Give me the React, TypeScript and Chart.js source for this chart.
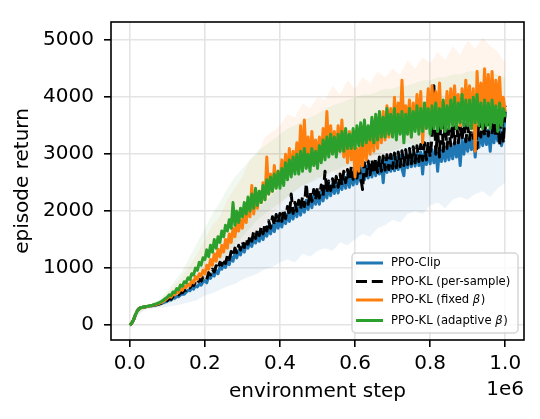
import React, { useEffect, useRef } from "react";
import { Chart, registerables } from "chart.js";

Chart.register(...registerables);

// environment steps (thousands)
const stepsK = [
  0, 5, 10, 15, 20, 25, 30, 35, 40, 45,
  50, 55, 60, 65, 70, 75, 80, 85, 90, 95,
  100, 105, 110, 115, 120, 125, 130, 135, 140, 145,
  150, 155, 160, 165, 170, 175, 180, 185, 190, 195,
  200, 205, 210, 215, 220, 225, 230, 235, 240, 245,
  250, 255, 260, 265, 270, 275, 280, 285, 290, 295,
  300, 305, 310, 315, 320, 325, 330, 335, 340, 345,
  350, 355, 360, 365, 370, 375, 380, 385, 390, 395,
  400, 405, 410, 415, 420, 425, 430, 435, 440, 445,
  450, 455, 460, 465, 470, 475, 480, 485, 490, 495,
  500, 505, 510, 515, 520, 525, 530, 535, 540, 545,
  550, 555, 560, 565, 570, 575, 580, 585, 590, 595,
  600, 605, 610, 615, 620, 625, 630, 635, 640, 645,
  650, 655, 660, 665, 670, 675, 680, 685, 690, 695,
  700, 705, 710, 715, 720, 725, 730, 735, 740, 745,
  750, 755, 760, 765, 770, 775, 780, 785, 790, 795,
  800, 805, 810, 815, 820, 825, 830, 835, 840, 845,
  850, 855, 860, 865, 870, 875, 880, 885, 890, 895,
  900, 905, 910, 915, 920, 925, 930, 935, 940, 945,
  950, 955, 960, 965, 970, 975, 980, 985, 990, 995,
  1000,
];

const ppoClip = [
  0, 30, 90, 180, 250, 290, 305, 312, 318, 323,
  328, 334, 340, 346, 352, 360, 370, 380, 392, 405,
  420, 445, 440, 478, 470, 505, 498, 530, 545, 540,
  575, 610, 600, 650, 630, 690, 670, 720, 700, 760,
  780, 740, 850, 820, 900, 860, 960, 900, 1010, 980,
  1080, 1010, 1130, 1060, 1200, 1120, 1260, 1180, 1310, 1230,
  1380, 1280, 1420, 1350, 1470, 1380, 1530, 1440, 1560, 1470,
  1620, 1500, 1660, 1560, 1720, 1600, 1750, 1640, 1820, 1700,
  1850, 1720, 1900, 1780, 1950, 1820, 2000, 1860, 2060, 1900,
  2080, 1930, 2130, 1980, 2190, 2030, 2240, 2060, 2280, 2120,
  2290, 2120, 2340, 2180, 2400, 2230, 2450, 2270, 2480, 2310,
  2500, 2320, 2540, 2380, 2600, 2400, 2640, 2420, 2660, 2460,
  2680, 2480, 2700, 2520, 2760, 2550, 2790, 2580, 2820, 2600,
  2830, 2620, 2850, 2650, 2880, 2500, 2900, 2680, 2920, 2700,
  2940, 2710, 2950, 2730, 2980, 2740, 2620, 2990, 2760, 3000,
  2780, 3010, 2790, 3030, 2800, 3040, 2650, 3050, 2820, 3060,
  2830, 3080, 2850, 3090, 2700, 3100, 2870, 3120, 2880, 3130,
  2900, 3150, 2920, 3200, 2950, 3230, 2800, 3260, 3000, 3280,
  3050, 3300, 3080, 3330, 2950, 3350, 3120, 3380, 3150, 3400,
  3170, 3420, 3050, 3450, 3200, 3480, 3230, 3520, 3150, 3300,
  3750,
];

const ppoKlPerSample = [
  0, 30, 90, 180, 250, 290, 305, 312, 318, 324,
  330, 336, 342, 349, 356, 365, 375, 387, 400, 415,
  430, 465, 455, 505, 495, 540, 530, 575, 565, 610,
  610, 665, 650, 710, 690, 760, 720, 800, 770, 840,
  850, 800, 920, 880, 980, 930, 1040, 990, 1100, 1050,
  1160, 1080, 1220, 1150, 1290, 1210, 1350, 1270, 1400, 1320,
  1460, 1360, 1510, 1420, 1560, 1470, 1640, 1520, 1680, 1570,
  1720, 1600, 1780, 1650, 1830, 1700, 1900, 1750, 1940, 1800,
  1960, 1820, 2030, 1870, 2080, 1920, 2300, 1960, 2150, 2000,
  2190, 2030, 2250, 2080, 2480, 2120, 2340, 2170, 2380, 2200,
  2420, 2230, 2460, 2270, 2700, 2320, 2530, 2360, 2570, 2400,
  2610, 2420, 2650, 2460, 2700, 2500, 2730, 2540, 2780, 2560,
  2800, 2580, 2820, 2600, 2380, 2850, 2620, 2880, 2640, 2900,
  2660, 2920, 2680, 2950, 2700, 2970, 2720, 2990, 2730, 3000,
  2750, 3020, 2760, 3040, 2780, 3060, 2800, 3080, 2820, 3100,
  2830, 3130, 2850, 3150, 2870, 3170, 2890, 3200, 2900, 3220,
  2950, 3300, 4200, 3000, 3400, 2950, 3900, 3050, 3500, 3100,
  3450, 3150, 3520, 3180, 3600, 3200, 3480, 3250, 3550, 3220,
  3500, 3250, 3560, 3280, 3600, 3100, 3620, 3300, 3650, 3320,
  3680, 3320, 3700, 3350, 3720, 3300, 3650, 3150, 3700, 3200,
  3850,
];

const ppoKlFixed = [
  0, 30, 90, 180, 250, 290, 305, 312, 318, 325,
  332, 338, 345, 352, 360, 372, 385, 400, 420, 445,
  470, 500, 490, 540, 530, 590, 570, 640, 610, 680,
  660, 720, 690, 780, 740, 850, 800, 900, 860, 960,
  900, 1050, 980, 1150, 1050, 1250, 1120, 1330, 1200, 1400,
  1280, 1500, 1350, 1600, 1450, 1700, 1550, 1800, 1650, 1850,
  1700, 2000, 1800, 2100, 1900, 2450, 1950, 2250, 2050, 2350,
  2150, 2500, 2200, 2950, 2300, 2650, 2350, 2800, 2450, 2700,
  2500, 2900, 2550, 3000, 2600, 3100, 2700, 3050, 2750, 3200,
  2800, 3500, 2850, 3600, 2900, 3300, 2850, 3400, 2950, 3250,
  2900, 3300, 2950, 3450, 3050, 3750, 3000, 3500, 3050, 3400,
  3000, 3500, 3050, 3600, 2950, 3300, 2850, 3400, 2900, 3250,
  2600, 3100, 2700, 3250, 2800, 3350, 2900, 3450, 3000, 3550,
  3050, 3600, 3100, 3700, 3200, 3750, 3250, 3850, 3300, 3800,
  3350, 4000, 3400, 3900, 3450, 4300, 3500, 3850, 3550, 3950,
  3300, 3900, 3450, 4050, 3550, 4100, 3200, 3800, 3650, 4150,
  3600, 4200, 3550, 4100, 3650, 4250, 3500, 3900, 3600, 4100,
  3550, 4150, 3650, 4200, 3700, 4050, 3500, 4150, 3650, 4300,
  3700, 4200, 3650, 4150, 3050, 4450, 3700, 4250, 3750, 4500,
  3800, 4400, 3750, 4450, 3700, 4300, 3850, 4350, 3650, 4000,
  3750,
];

const ppoKlAdaptive = [
  0, 30, 90, 180, 250, 292, 306, 314, 320, 328,
  335, 342, 350, 360, 370, 385, 400, 418, 440, 465,
  490, 530, 520, 580, 570, 640, 620, 700, 680, 760,
  740, 830, 800, 900, 880, 1000, 960, 1100, 1050, 1180,
  1150, 1320, 1200, 1400, 1280, 1500, 1350, 1550, 1450, 1650,
  1550, 1750, 1650, 1850, 1700, 2150, 1750, 2000, 1800, 2050,
  1900, 2150, 1950, 2250, 2000, 2300, 2050, 2400, 2100, 2350,
  2150, 2450, 2200, 2550, 2300, 2600, 2350, 2650, 2400, 2700,
  2400, 2750, 2450, 2850, 2550, 2900, 2600, 2950, 2650, 3000,
  2650, 3050, 2700, 3100, 2750, 3000, 2700, 3100, 2800, 3050,
  2750, 3150, 2850, 3250, 2900, 3300, 2950, 3350, 3000, 3300,
  2950, 3350, 3050, 3400, 3050, 3450, 3100, 3350, 3100, 3450,
  3100, 3500, 3150, 3550, 3150, 3600, 3200, 3500, 3250, 3650,
  3200, 3700, 3250, 3750, 3300, 3650, 3300, 3800, 3350, 3700,
  3300, 3800, 3250, 3700, 3350, 3750, 3200, 3700, 3350, 3800,
  3300, 3750, 3400, 3850, 3350, 3800, 3400, 3900, 3450, 3800,
  3350, 3850, 3450, 3900, 3400, 3800, 3450, 3950, 3400, 3850,
  3450, 3950, 3500, 4000, 3450, 3900, 3550, 4050, 3500, 3950,
  3500, 3950, 3450, 4000, 3550, 4050, 3500, 3900, 3450, 3950,
  3500, 3900, 3450, 3950, 3550, 3850, 3400, 3900, 3500, 3800,
  3650,
];

// shaded spread (thousands of steps, coarser grid)
const bandStepsK = [
  0, 20, 40, 60, 80, 100, 120, 140, 160, 180,
  200, 220, 240, 260, 280, 300, 320, 340, 360, 380,
  400, 420, 440, 460, 480, 500, 520, 540, 560, 580,
  600, 620, 640, 660, 680, 700, 720, 740, 760, 780,
  800, 820, 840, 860, 880, 900, 920, 940, 960, 980,
  1000,
];

const clipUpper = [
  0, 270, 320, 345, 380, 470, 560, 650, 760, 880,
  1000, 1150, 1300, 1480, 1600, 1750, 1900, 2050, 2150, 2300,
  2400, 2550, 2650, 2750, 2850, 2900, 3000, 3050, 3150, 3200,
  3250, 3300, 3350, 3400, 3400, 3450, 3500, 3550, 3550, 3600,
  3650, 3650, 3700, 3750, 3750, 3800, 3850, 3850, 3900, 3950,
  4000,
];
const clipLower = [
  0, 150, 270, 290, 300, 320, 340, 370, 400, 440,
  520, 560, 620, 680, 720, 800, 850, 900, 980, 1020,
  1100, 1150, 1100, 1250, 1200, 1300, 1350, 1300, 1450, 1400,
  1500, 1600, 1550, 1700, 1750, 1850, 1800, 1950, 2000, 1950,
  2100, 2150, 2050, 2200, 2250, 2200, 2300, 2350, 2250, 2400,
  2500,
];
const fixedUpper = [
  0, 270, 330, 360, 420, 560, 700, 850, 1050, 1250,
  1500, 1750, 1900, 2200, 2400, 2600, 2900, 3000, 3300, 3400,
  3500, 3700, 3650, 3900, 3800, 4000, 3950, 4200, 4050, 4300,
  4150, 4350, 4250, 4450, 4350, 4500, 4400, 4650, 4500, 4700,
  4600, 4800, 4650, 4900, 4750, 5000, 4850, 5050, 4900, 4800,
  4600,
];
const fixedLower = [
  0, 200, 280, 300, 320, 380, 440, 520, 600, 650,
  720, 850, 950, 1100, 1200, 1350, 1500, 1650, 1800, 1950,
  2100, 2250, 2350, 2450, 2500, 2600, 2550, 2700, 2600, 2750,
  2500, 2650, 2800, 2900, 3000, 3050, 3100, 3200, 3150, 3250,
  3300, 3250, 3350, 3300, 3400, 3350, 3400, 3300, 3450, 3350,
  3300,
];
const adaptiveUpper = [
  0, 270, 330, 370, 450, 600, 780, 950, 1200, 1450,
  1700, 1950, 2150, 2400, 2600, 2750, 2900, 3050, 3150, 3250,
  3350, 3450, 3500, 3600, 3650, 3700, 3800, 3850, 3900, 3950,
  4000, 4050, 4050, 4100, 4150, 4150, 4200, 4200, 4250, 4300,
  4300, 4350, 4350, 4400, 4400, 4450, 4450, 4500, 4450, 4400,
  4350,
];
const adaptiveLower = [
  0, 200, 280, 300, 320, 370, 420, 500, 580, 680,
  800, 950, 1100, 1250, 1400, 1550, 1700, 1850, 1950, 2050,
  2150, 2250, 2350, 2450, 2500, 2550, 2650, 2700, 2750, 2800,
  2850, 2900, 2950, 3000, 3050, 3050, 3100, 3100, 3150, 3150,
  3200, 3200, 3250, 3250, 3300, 3300, 3300, 3350, 3300, 3300,
  3300,
];

const seriesLabels = [
  "PPO-Clip",
  "PPO-KL (per-sample)",
  "PPO-KL (fixed β)",
  "PPO-KL (adaptive β)",
];
const xTickValues = [0, 200000, 400000, 600000, 800000, 1000000];
const yTickValues = [0, 1000, 2000, 3000, 4000, 5000];

const FONT = '"DejaVu Sans", sans-serif';
const C_BLUE = "#1f77b4";
const C_BLACK = "#000000";
const C_ORANGE = "#ff7f0e";
const C_GREEN = "#2ca02c";

const pts = (xs: number[], ys: number[]) =>
  xs.map((x, i) => ({ x: x * 1000, y: ys[i] }));

const lineDs = (label: string, ys: number[], color: string, order: number, dash?: number[]) => ({
  label,
  data: pts(stepsK, ys),
  borderColor: color,
  backgroundColor: color,
  borderWidth: 3,
  borderDash: dash || [],
  borderJoinStyle: "round" as const,
  pointRadius: 0,
  fill: false,
  tension: 0,
  order,
});

const bandDs = (ys: number[], fill: any, bg: string) => ({
  label: "",
  data: pts(bandStepsK, ys),
  borderColor: "rgba(0,0,0,0)",
  borderWidth: 0,
  pointRadius: 0,
  backgroundColor: bg,
  fill,
  tension: 0,
  order: 10,
});

const decorPlugin = {
  id: "decor",
  afterDatasetsDraw(chart: any) {
    const { ctx, chartArea: a } = chart;
    ctx.save();
    ctx.strokeStyle = "#000";
    ctx.lineWidth = 1.6;
    ctx.strokeRect(a.left, a.top, a.right - a.left, a.bottom - a.top);
    ctx.restore();
  },
  afterDraw(chart: any) {
    const { ctx, chartArea: a } = chart;
    ctx.save();
    ctx.font = `20px ${FONT}`;
    ctx.fillStyle = "#000";
    ctx.textAlign = "right";
    ctx.textBaseline = "middle";
    ctx.fillText("1e6", a.right, 390);

    const bx = 352, by = 253, bw = 166, bh = 80, r = 4;
    ctx.beginPath();
    ctx.moveTo(bx + r, by);
    ctx.lineTo(bx + bw - r, by);
    ctx.arcTo(bx + bw, by, bx + bw, by + r, r);
    ctx.lineTo(bx + bw, by + bh - r);
    ctx.arcTo(bx + bw, by + bh, bx + bw - r, by + bh, r);
    ctx.lineTo(bx + r, by + bh);
    ctx.arcTo(bx, by + bh, bx, by + bh - r, r);
    ctx.lineTo(bx, by + r);
    ctx.arcTo(bx, by, bx + r, by, r);
    ctx.closePath();
    ctx.fillStyle = "rgba(255,255,255,0.8)";
    ctx.fill();
    ctx.strokeStyle = "rgba(204,204,204,0.8)";
    ctx.lineWidth = 1.5;
    ctx.stroke();

    const colors = [C_BLUE, C_BLACK, C_ORANGE, C_GREEN];
    const rows = [263, 281.5, 300, 320.5];
    seriesLabels.forEach((lab, i) => {
      const y = rows[i];
      ctx.beginPath();
      ctx.strokeStyle = colors[i];
      ctx.lineWidth = 3;
      ctx.setLineDash(i === 1 ? [11, 4.8] : []);
      ctx.moveTo(356, y);
      ctx.lineTo(383, y);
      ctx.stroke();
      ctx.setLineDash([]);
      ctx.fillStyle = "#000";
      ctx.textAlign = "left";
      ctx.textBaseline = "middle";
      const parts = lab.split("β");
      let x = 391;
      parts.forEach((p, j) => {
        ctx.font = `11.6px ${FONT}`;
        ctx.fillText(p, x, y);
        x += ctx.measureText(p).width;
        if (j < parts.length - 1) {
          ctx.font = `italic 11.6px ${FONT}`;
          ctx.fillText("β", x, y);
          x += ctx.measureText("β").width + 0.5;
        }
      });
    });
    ctx.restore();
  },
};

export default function App() {
  const ref = useRef<HTMLCanvasElement | null>(null);

  useEffect(() => {
    if (!ref.current) return;
    const chart = new Chart(ref.current, {
      type: "line",
      data: {
        datasets: [
          lineDs(seriesLabels[0], ppoClip, C_BLUE, 3),
          lineDs(seriesLabels[1], ppoKlPerSample, C_BLACK, 2, [11, 4.8]),
          lineDs(seriesLabels[2], ppoKlFixed, C_ORANGE, 1),
          lineDs(seriesLabels[3], ppoKlAdaptive, C_GREEN, 0),
          bandDs(clipUpper, false, "rgba(0,0,0,0)"),
          bandDs(clipLower, { target: 4 }, "rgba(31,119,180,0.08)"),
          bandDs(fixedUpper, false, "rgba(0,0,0,0)"),
          bandDs(fixedLower, { target: 6 }, "rgba(255,127,14,0.08)"),
          bandDs(adaptiveUpper, false, "rgba(0,0,0,0)"),
          bandDs(adaptiveLower, { target: 8 }, "rgba(44,160,44,0.07)"),
        ] as any,
      },
      options: {
        animation: false,
        responsive: false,
        events: [],
        layout: { padding: { left: 0, right: 16, top: 15, bottom: 0 } },
        plugins: {
          legend: { display: false },
          tooltip: { enabled: false },
          filler: { propagate: false },
        },
        scales: {
          x: {
            type: "linear",
            min: -50000,
            max: 1050000,
            afterBuildTicks: (axis: any) => {
              axis.ticks = xTickValues.map((v) => ({ value: v }));
            },
            afterFit: (scale: any) => {
              scale.height = 79;
            },
            ticks: {
              autoSkip: false,
              maxRotation: 0,
              padding: 5,
              color: "#000",
              font: { family: FONT, size: 20 },
              callback: (v: any) => (Number(v) / 1e6).toFixed(1),
            },
            grid: {
              color: "#e4e4e4",
              lineWidth: 1.6,
              drawTicks: true,
              tickLength: 7,
              tickColor: "#000",
              tickWidth: 1.6,
            },
            border: { display: false },
            title: {
              display: true,
              text: "environment step",
              color: "#000",
              font: { family: FONT, size: 20 },
              padding: { top: 0, bottom: 15 },
            },
          },
          y: {
            type: "linear",
            min: -263,
            max: 5321,
            afterBuildTicks: (axis: any) => {
              axis.ticks = yTickValues.map((v) => ({ value: v }));
            },
            afterFit: (scale: any) => {
              scale.width = 111;
            },
            ticks: {
              autoSkip: false,
              padding: 10,
              color: "#000",
              font: { family: FONT, size: 20 },
              callback: (v: any) => String(v),
            },
            grid: {
              color: "#e4e4e4",
              lineWidth: 1.6,
              drawTicks: true,
              tickLength: 7,
              tickColor: "#000",
              tickWidth: 1.6,
            },
            border: { display: false },
            title: {
              display: true,
              text: "episode return",
              color: "#000",
              font: { family: FONT, size: 20 },
              padding: { top: 11, bottom: 0 },
            },
          },
        },
      } as any,
      plugins: [decorPlugin],
    });
    return () => chart.destroy();
  }, []);

  return (
    <div style={{ position: "absolute", left: 0, top: 0, width: 540, height: 419, background: "#fff" }}>
      <canvas ref={ref} width={540} height={419} style={{ display: "block", width: 540, height: 419 }} />
    </div>
  );
}
